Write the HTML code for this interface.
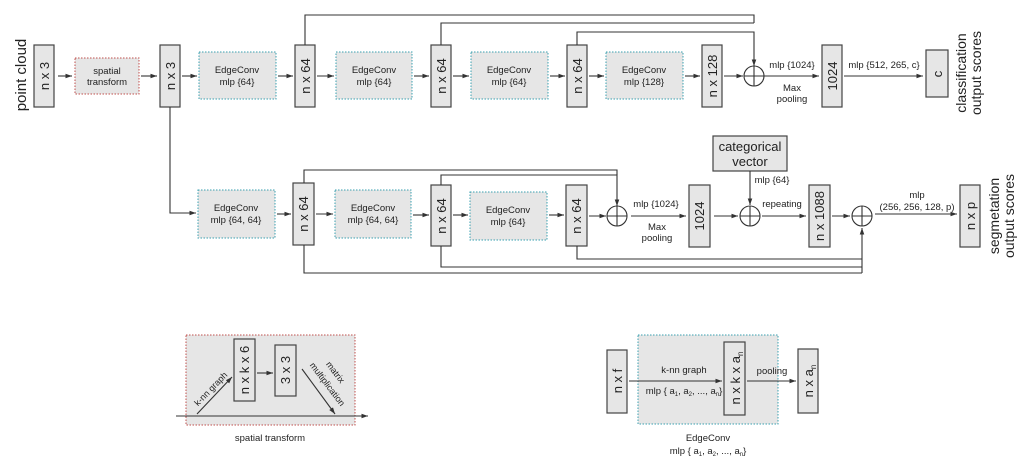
<!DOCTYPE html>
<html><head><meta charset="utf-8"><style>
html,body{margin:0;padding:0;background:#fff}
svg{display:block;font-family:"Liberation Sans",sans-serif}
</style></head><body>
<svg width="1028" height="460" viewBox="0 0 1028 460" xmlns="http://www.w3.org/2000/svg">
<defs>
<marker id="a" viewBox="0 0 10 10" refX="10" refY="5" markerWidth="6" markerHeight="6" orient="auto"><path d="M0,1.5 L10,5 L0,8.5z" fill="#333"/></marker>
</defs>
<g fill="#e6e6e6" stroke="#444" stroke-width="1.2">
<rect x="34" y="45" width="20" height="62"/>
<rect x="160" y="45" width="20" height="62"/>
<rect x="295" y="45" width="20" height="62"/>
<rect x="431" y="45" width="20" height="62"/>
<rect x="567" y="45" width="20" height="62"/>
<rect x="702" y="45" width="20" height="62"/>
<rect x="822" y="45" width="20" height="62"/>
<rect x="926" y="50" width="22" height="47"/>
<rect x="293" y="183" width="21" height="62"/>
<rect x="431" y="185" width="20" height="61"/>
<rect x="566" y="185" width="21" height="61"/>
<rect x="689" y="185" width="21" height="62"/>
<rect x="809" y="185" width="21" height="62"/>
<rect x="960" y="185" width="20" height="62"/>
<rect x="713" y="136" width="74" height="35"/>
</g>
<g fill="#e6e6e6" stroke="#c0504d" stroke-width="1" stroke-dasharray="1.5,1.5">
<rect x="75" y="58" width="64" height="36"/>
<rect x="186" y="335" width="169" height="90"/>
</g>
<g fill="#e6e6e6" stroke="#3aa0b0" stroke-width="1" stroke-dasharray="1.5,1.5">
<rect x="199" y="52" width="77" height="47"/>
<rect x="336" y="52" width="76" height="47"/>
<rect x="471" y="52" width="77" height="47"/>
<rect x="606" y="52" width="77" height="47"/>
<rect x="198" y="190" width="77" height="48"/>
<rect x="335" y="190" width="76" height="48"/>
<rect x="470" y="192" width="77" height="48"/>
<rect x="638" y="335" width="140" height="89"/>
</g>
<g fill="#e6e6e6" stroke="#444" stroke-width="1.2">
<rect x="234" y="339" width="21" height="62"/>
<rect x="275" y="345" width="21" height="51"/>
<rect x="607" y="350" width="20" height="63"/>
<rect x="724" y="342" width="21" height="73"/>
<rect x="798" y="349" width="20" height="64"/>
</g>
<g stroke="#333" stroke-width="1.1" fill="none">
<line x1="58" y1="76" x2="72" y2="76" marker-end="url(#a)"/>
<line x1="141" y1="76" x2="157" y2="76" marker-end="url(#a)"/>
<line x1="182" y1="76" x2="197" y2="76" marker-end="url(#a)"/>
<line x1="278" y1="76" x2="293" y2="76" marker-end="url(#a)"/>
<line x1="317" y1="76" x2="334" y2="76" marker-end="url(#a)"/>
<line x1="414" y1="76" x2="429" y2="76" marker-end="url(#a)"/>
<line x1="453" y1="76" x2="469" y2="76" marker-end="url(#a)"/>
<line x1="550" y1="76" x2="565" y2="76" marker-end="url(#a)"/>
<line x1="589" y1="76" x2="604" y2="76" marker-end="url(#a)"/>
<line x1="685" y1="76" x2="700" y2="76" marker-end="url(#a)"/>
<line x1="724" y1="76" x2="743" y2="76" marker-end="url(#a)"/>
<line x1="764" y1="76" x2="819" y2="76" marker-end="url(#a)"/>
<line x1="844" y1="76" x2="923" y2="76" marker-end="url(#a)"/>
<polyline points="305,45 305,15 754,15 754,23"/>
<polyline points="441,45 441,23 754,23"/>
<polyline points="577,45 577,32 754,32 754,66" marker-end="url(#a)"/>
<circle cx="754" cy="76" r="10"/><line x1="744" y1="76" x2="764" y2="76"/><line x1="754" y1="66" x2="754" y2="86"/>
<polyline points="170,107 170,213 196,213" marker-end="url(#a)"/>
<line x1="277" y1="214" x2="291" y2="214" marker-end="url(#a)"/>
<line x1="316" y1="214" x2="333" y2="214" marker-end="url(#a)"/>
<line x1="413" y1="215" x2="429" y2="215" marker-end="url(#a)"/>
<line x1="453" y1="215" x2="468" y2="215" marker-end="url(#a)"/>
<line x1="549" y1="215" x2="564" y2="215" marker-end="url(#a)"/>
<line x1="589" y1="216" x2="606" y2="216" marker-end="url(#a)"/>
<polyline points="304,183 304,170 617,170 617,175"/>
<polyline points="441,185 441,175 617,175 617,206" marker-end="url(#a)"/>
<circle cx="617" cy="216" r="10"/><line x1="607" y1="216" x2="627" y2="216"/><line x1="617" y1="206" x2="617" y2="226"/>
<line x1="631" y1="216" x2="686" y2="216" marker-end="url(#a)"/>
<line x1="714" y1="216" x2="738" y2="216" marker-end="url(#a)"/>
<line x1="750" y1="171" x2="750" y2="205" marker-end="url(#a)"/>
<circle cx="750" cy="216" r="10"/><line x1="740" y1="216" x2="760" y2="216"/><line x1="750" y1="206" x2="750" y2="226"/>
<line x1="762" y1="216" x2="806" y2="216" marker-end="url(#a)"/>
<line x1="832" y1="216" x2="850" y2="216" marker-end="url(#a)"/>
<circle cx="862" cy="216" r="10"/><line x1="852" y1="216" x2="872" y2="216"/><line x1="862" y1="206" x2="862" y2="226"/>
<line x1="875" y1="214" x2="957" y2="214" marker-end="url(#a)"/>
<polyline points="304,245 304,273 862,273"/>
<polyline points="441,246 441,267 862,267"/>
<polyline points="577,246 577,259 862,259"/>
<line x1="862" y1="273" x2="862" y2="228" marker-end="url(#a)"/>
<line x1="176" y1="416" x2="368" y2="416" marker-end="url(#a)"/>
<line x1="197" y1="414" x2="232" y2="377" marker-end="url(#a)"/>
<line x1="257" y1="373" x2="273" y2="373" marker-end="url(#a)"/>
<line x1="302" y1="369" x2="335" y2="414" marker-end="url(#a)"/>
<line x1="629" y1="381" x2="722" y2="381" marker-end="url(#a)"/>
<line x1="747" y1="381" x2="796" y2="381" marker-end="url(#a)"/>
</g>
<g fill="#222" font-size="9.5" text-anchor="middle">
<text x="107" y="74">spatial</text><text x="107" y="85">transform</text>
<text x="237" y="73">EdgeConv</text><text x="237" y="85">mlp {64}</text>
<text x="374" y="73">EdgeConv</text><text x="374" y="85">mlp {64}</text>
<text x="509" y="73">EdgeConv</text><text x="509" y="85">mlp {64}</text>
<text x="644" y="73">EdgeConv</text><text x="644" y="85">mlp {128}</text>
<text x="236" y="211">EdgeConv</text><text x="236" y="223">mlp {64, 64}</text>
<text x="373" y="211">EdgeConv</text><text x="373" y="223">mlp {64, 64}</text>
<text x="508" y="213">EdgeConv</text><text x="508" y="225">mlp {64}</text>
<text x="792" y="68">mlp {1024}</text>
<text x="792" y="91">Max</text><text x="792" y="102">pooling</text>
<text x="884" y="68">mlp {512, 265, c}</text>
<text x="656" y="207">mlp {1024}</text>
<text x="657" y="230">Max</text><text x="657" y="241">pooling</text>
<text x="772" y="183">mlp {64}</text>
<text x="782" y="207">repeating</text>
<text x="917" y="198">mlp</text>
<text x="917" y="210">(256, 256, 128, p)</text>
<text x="270" y="441">spatial transform</text>
<text x="684" y="373">k-nn graph</text>
<text x="684" y="394">mlp { a<tspan font-size="6" dy="2">1</tspan><tspan dy="-2">, a</tspan><tspan font-size="6" dy="2">2</tspan><tspan dy="-2">, ..., a</tspan><tspan font-size="6" dy="2">n</tspan><tspan dy="-2">}</tspan></text>
<text x="772" y="374">pooling</text>
<text x="708" y="441">EdgeConv</text>
<text x="708" y="454">mlp { a<tspan font-size="6" dy="2">1</tspan><tspan dy="-2">, a</tspan><tspan font-size="6" dy="2">2</tspan><tspan dy="-2">, ..., a</tspan><tspan font-size="6" dy="2">n</tspan><tspan dy="-2">}</tspan></text>
<text x="750" y="151" font-size="13">categorical</text>
<text x="750" y="166" font-size="13">vector</text>
<text transform="translate(213,391) rotate(-46)" font-size="9">k-nn graph</text>
<text transform="translate(333,374) rotate(53)" font-size="9">matrix</text>
<text transform="translate(325,386) rotate(53)" font-size="9">multiplication</text>
</g>
<g fill="#222" font-size="13" text-anchor="middle">
<text transform="translate(49,76) rotate(-90)">n x 3</text>
<text transform="translate(175,76) rotate(-90)">n x 3</text>
<text transform="translate(310,76) rotate(-90)">n x 64</text>
<text transform="translate(446,76) rotate(-90)">n x 64</text>
<text transform="translate(582,76) rotate(-90)">n x 64</text>
<text transform="translate(717,76) rotate(-90)">n x 128</text>
<text transform="translate(837,76) rotate(-90)">1024</text>
<text transform="translate(942,74) rotate(-90)">c</text>
<text transform="translate(308,214) rotate(-90)">n x 64</text>
<text transform="translate(446,216) rotate(-90)">n x 64</text>
<text transform="translate(581,216) rotate(-90)">n x 64</text>
<text transform="translate(704,216) rotate(-90)">1024</text>
<text transform="translate(824,216) rotate(-90)">n x 1088</text>
<text transform="translate(975,216) rotate(-90)">n x p</text>
<text transform="translate(249,370) rotate(-90)">n x k x 6</text>
<text transform="translate(290,370) rotate(-90)">3 x 3</text>
<text transform="translate(622,381) rotate(-90)">n x f</text>
<text transform="translate(740,378) rotate(-90)">n x k x a<tspan font-size="8" dy="3">n</tspan></text>
<text transform="translate(813,381) rotate(-90)">n x a<tspan font-size="8" dy="3">n</tspan></text>
<text transform="translate(26,75) rotate(-90)" font-size="15">point cloud</text>
<text transform="translate(966,73) rotate(-90)" font-size="14">classification</text>
<text transform="translate(981,73) rotate(-90)" font-size="14">output scores</text>
<text transform="translate(999,216) rotate(-90)" font-size="14">segmetation</text>
<text transform="translate(1014,216) rotate(-90)" font-size="14">output scores</text>
</g>
</svg>
</body></html>
